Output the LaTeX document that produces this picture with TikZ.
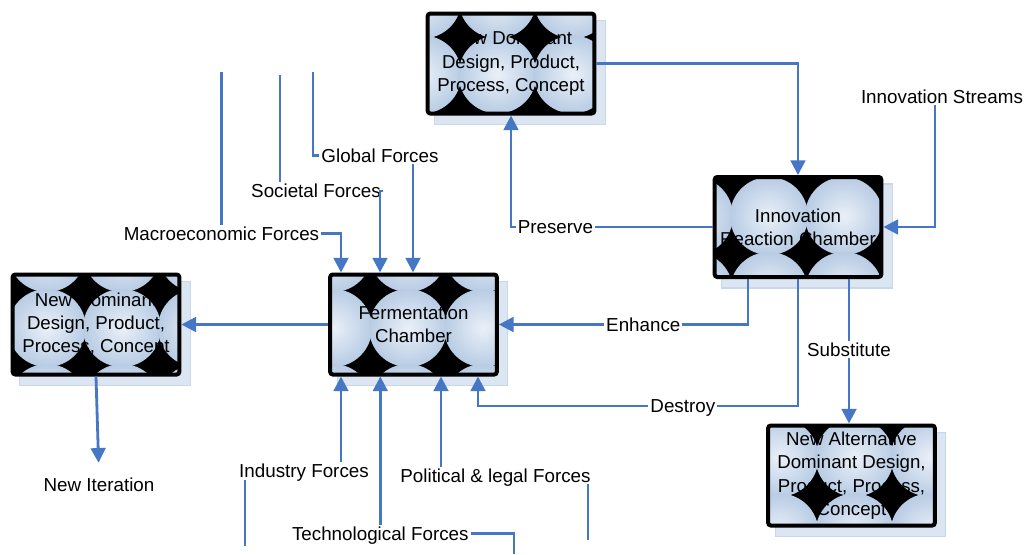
\documentclass[tikz,border=0pt]{standalone}
\usepackage{fontspec}
\setmainfont{Liberation Sans}
\usetikzlibrary{arrows.meta,backgrounds}

\definecolor{flowblue}{HTML}{4677C4}
\definecolor{ballrim}{HTML}{B8CCE4}
\definecolor{ballhi}{HTML}{EAF0F8}
\definecolor{shadowfill}{HTML}{DCE6F2}
\definecolor{shadowline}{HTML}{C8D7EB}

\tikzset{
  chamber/.style 2 args={fill=black, draw=black, line width=3pt, rounded corners=2pt,
    minimum width=125pt, minimum height=75pt, inner sep=0pt, align=center,
    font=\fontsize{14pt}{17.5pt}\selectfont,
    path picture={
      \foreach \i in {-3,...,3}
        \foreach \j in {-2,...,2}
          \shade[inner color=ballhi, outer color=ballrim]
            ([shift={({#1+75*\i},{#2+75*\j})}]path picture bounding box.center) circle[radius=39];
    }},
  lbl/.style={font=\fontsize{14.1pt}{16pt}\selectfont, text height=10pt, text depth=0pt, inner sep=1.5pt},
  onwire/.style={lbl, fill=white},
  wire/.style={draw=flowblue, line width=2.1pt},
  flow/.style={wire, -{Triangle[width=11pt,length=11pt]}},
  shadowbox/.style={fill=shadowfill, draw=shadowline, line width=.8pt}
}

\begin{document}
\begin{tikzpicture}[x=0.75pt,y=-0.75pt]
\useasboundingbox (0,0) rectangle (1028,554);

% the five boxes
\node[chamber={-13.5}{11}] (topdesign) at (511,63.5) {New Dominant\\Design, Product,\\Process, Concept};
\node[chamber={46}{-11}] (reaction) at (798,227) {Innovation\\Reaction Chamber};
\node[chamber={-49}{3.5}] (leftdesign) at (96,324.5) {New Dominant\\Design, Product,\\Process, Concept};
\node[chamber={-5.5}{3.5}] (ferment) at (413.5,324.5) {Fermentation\\Chamber};
\node[chamber={3}{-18}] (altdesign) at (851.5,475.5) {New Alternative\\Dominant Design,\\Product, Process,\\Concept};

\begin{scope}[on background layer]
  \fill[white] (0,0) rectangle (1028,554);
  \foreach \b in {topdesign,reaction,leftdesign,ferment,altdesign}
    \filldraw[shadowbox] ([shift={(9,9)}]\b.north west) rectangle ([shift={(9,9)}]\b.south east);
\end{scope}

% free labels
\node[lbl] (streams) at (942,96.5) {Innovation Streams};
\node[lbl] (macro) at (221.5,233.5) {Macroeconomic Forces};
\node[lbl] (societal) at (316,191) {Societal Forces};
\node[lbl] (global) at (380,155.5) {Global Forces};
\node[lbl] (industry) at (304,471) {Industry Forces};
\node[lbl] (techno) at (380.3,533.5) {Technological Forces};
\node[lbl] (political) at (495.5,475.5) {Political \& legal Forces};
\node[lbl] (iteration) at (99,485) {New Iteration};

\coordinate (macrotop) at (221.5,72);
\coordinate (societaltop) at (280,75);
\coordinate (globaltop) at (313,72);
\coordinate (industrytail) at (245,546);
\coordinate (technotail) at (514,554);
\coordinate (politicaltail) at (588,540);

% around the reaction chamber
\draw[flow] (topdesign.east) -| (reaction.north);
\draw[flow] (reaction.west) -| node[onwire,pos=.39] (preserve) {Preserve} (topdesign.south);
\draw[flow] (streams.south -| 935,0) |- (reaction.east);
\draw[flow] (reaction.south -| 748,0) |- node[onwire,pos=.71] (enhance) {Enhance} (ferment.east);
\draw[flow] (reaction.south) -- ++(0,127) -| node[onwire,pos=.18] (destroy) {Destroy} (ferment.south -| 478,0);
\draw[flow] (reaction.south -| 849,0) -- node[onwire,pos=.49] (substitute) {Substitute} (altdesign.north -| 849,0);
\draw[flow] (ferment.west) -- (leftdesign.east);
\draw[flow, shorten >=10pt] (leftdesign.south) -- (iteration.north);

% forces into the fermentation chamber
\draw[wire] (macrotop) -- (macro.north);
\draw[flow] (macro.east) -| (ferment.north -| 341,0);
\draw[wire] (societaltop) -- (societal.north -| societaltop);
\draw[flow] (societal.east) -| (ferment.north -| 380,0);
\draw[wire] (globaltop) |- (global.west);
\draw[flow] (global.south -| 413,0) -- (ferment.north -| 413,0);
\draw[flow] (industry.north -| 341,0) -- (ferment.south -| 341,0);
\draw[wire] (industry.south -| industrytail) -- (industrytail);
\draw[flow] (techno.north) -- (ferment.south -| techno.north);
\draw[wire] (techno.east) -| (technotail);
\draw[flow] (political.north -| 441,0) -- (ferment.south -| 441,0);
\draw[wire] (political.south -| politicaltail) -- (politicaltail);

\end{tikzpicture}
\end{document}
